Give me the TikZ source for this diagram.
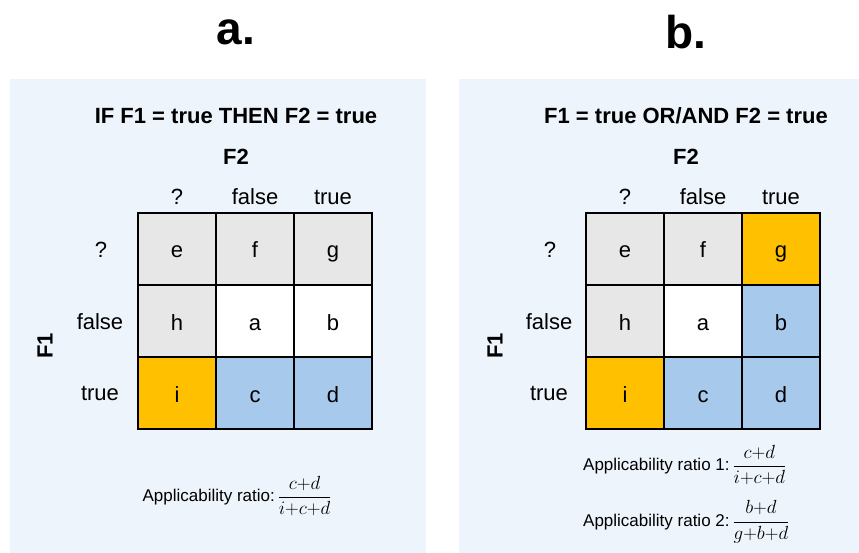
\documentclass[tikz,border=0pt]{standalone}
\usepackage{fix-cm}
\usepackage{amsmath}
\usepackage{fontspec}
\setmainfont{Liberation Sans}

\definecolor{panelbg}{HTML}{EEF4FB}
\definecolor{cellgray}{HTML}{E7E7E7}
\definecolor{cellgold}{HTML}{FFC000}
\definecolor{cellblue}{HTML}{A7C9EB}

\newcommand{\ratiofrac}[2]{{\fontsize{19}{22}\selectfont$\dfrac{#1}{#2}$}}

\begin{document}
\begin{tikzpicture}[x=1pt,y=-1pt,
    cell/.style={draw,line width=2.5pt,minimum width=78pt,minimum height=72pt,
        inner sep=0pt,outer sep=0pt,text height=18pt,text depth=0pt,
        font=\fontsize{22}{26}\selectfont},
    lbl/.style={inner sep=0pt,font=\fontsize{22}{26}\selectfont},
    head/.style={inner sep=0pt,font=\fontsize{22}{26}\selectfont\bfseries},
    ratio/.style={inner sep=0pt,font=\fontsize{17}{20}\selectfont}]
            \useasboundingbox (0,0) rectangle (859,553);
            \fill[panelbg] (10,79) rectangle (426,553);
            \fill[panelbg] (459,79) rectangle (859,553);

            \node[inner sep=0pt,font=\fontsize{46}{50}\selectfont\bfseries] (pa) at (236,32) {a.};
            \node[inner sep=0pt,font=\fontsize{46}{50}\selectfont\bfseries] (pb) at (686,32) {b.};

            \begin{scope}
                \node[head] (ta) at (236,116) {IF F1 = true THEN F2 = true};
                \node[head] (fa2) at (236,157) {F2};
                \node[head,rotate=90] (fa1) at (45,346) {F1};
                \node[lbl] (ca1) at (177,197) {?};
                \node[lbl] (ca2) at (255,197) {false};
                \node[lbl] (ca3) at (333,197) {true};
                \node[lbl] (ra1) at (101,250) {?};
                \node[lbl] (ra2) at (100,322) {false};
                \node[lbl] (ra3) at (100,393) {true};
            \end{scope}

            \begin{scope}
                \node[cell,fill=cellgray] (ae) at (177,249) {e};
                \node[cell,fill=cellgray] (af) at (255,249) {f};
                \node[cell,fill=cellgray] (ag) at (333,249) {g};
                \node[cell,fill=cellgray] (ah) at (177,321) {h};
                \node[cell,fill=white] (aa) at (255,321) {a};
                \node[cell,fill=white] (ab) at (333,321) {b};
                \node[cell,fill=cellgold] (ai) at (177,393) {i};
                \node[cell,fill=cellblue] (ac) at (255,393) {c};
                \node[cell,fill=cellblue] (ad) at (333,393) {d};
            \end{scope}

            \node[ratio] (qa) at (237,496) {Applicability ratio:\,\ratiofrac{c{+}d}{i{+}c{+}d}};

            \begin{scope}
                \node[head] (tb) at (686,116) {F1 = true OR/AND F2 = true};
                \node[head] (fb2) at (686,157) {F2};
                \node[head,rotate=90] (fb1) at (495,346) {F1};
                \node[lbl] (cb1) at (625,197) {?};
                \node[lbl] (cb2) at (703,197) {false};
                \node[lbl] (cb3) at (781,197) {true};
                \node[lbl] (rb1) at (550,250) {?};
                \node[lbl] (rb2) at (549,322) {false};
                \node[lbl] (rb3) at (549,393) {true};
            \end{scope}

            \begin{scope}
                \node[cell,fill=cellgray] (be) at (625,249) {e};
                \node[cell,fill=cellgray] (bf) at (703,249) {f};
                \node[cell,fill=cellgold] (bg) at (781,249) {g};
                \node[cell,fill=cellgray] (bh) at (625,321) {h};
                \node[cell,fill=white] (ba) at (703,321) {a};
                \node[cell,fill=cellblue] (bb) at (781,321) {b};
                \node[cell,fill=cellgold] (bi) at (625,393) {i};
                \node[cell,fill=cellblue] (bc) at (703,393) {c};
                \node[cell,fill=cellblue] (bd) at (781,393) {d};
            \end{scope}

            \node[ratio,anchor=west] (qb1) at (583,465) {Applicability ratio 1:\,\ratiofrac{c{+}d}{i{+}c{+}d}};
            \node[ratio,anchor=west] (qb2) at (583,522) {Applicability ratio 2:\,\ratiofrac{b{+}d}{g{+}b{+}d}};
            \end{tikzpicture}
\end{document}
